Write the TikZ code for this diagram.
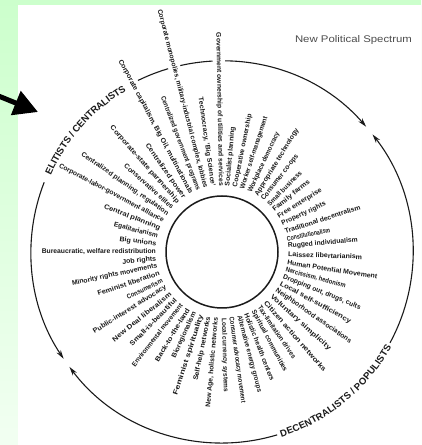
\documentclass[tikz,border=0pt]{standalone}
\usepackage{fontspec}
\setmainfont{Liberation Sans}
\usetikzlibrary{arrows.meta,calc,decorations.text}
\definecolor{bgtop}{HTML}{CCFFCC}
\definecolor{bgbot}{HTML}{F2FFF2}
\definecolor{ink}{HTML}{1A1A1A}

% one radial label: angle, outer radius, text, node name, extra style
\newcommand\spokelabel[5]{%
  \pgfmathsetmacro\spklen{#2-66}%
  \pgfmathtruncatemacro\spkleft{((#1 > 90) || (#1 < -90)) ? 1 : 0}%
  \ifnum\spkleft=1
    \pgfmathsetmacro\spkrot{#1-180}%
    \path (C) ++(#1:66) node[spoke,#5,anchor=east,rotate=\spkrot] (#4)
      {\resizebox{\spklen pt}{4.9pt}{\textbf{#3}}};
  \else
    \path (C) ++(#1:66) node[spoke,#5,anchor=west,rotate=#1] (#4)
      {\resizebox{\spklen pt}{4.9pt}{\textbf{#3}}};
  \fi}

\begin{document}
\begin{tikzpicture}[x=1pt,y=1pt,
  arcline/.style={draw=ink,line width=1.1pt,-{Stealth[length=9pt,width=5pt]}},
  spoke/.style={inner sep=0pt,text=ink},
  cutspoke/.style={fill=white,inner xsep=0pt,inner ysep=3pt},
  arclabel/.style={decorate,decoration={text along path,text align=center,
     raise=-3.5pt,text color=ink,text={#1}}},
  pointer/.style={line width=5pt,-{Triangle[length=24pt,width=25pt]}}]
\useasboundingbox (0,0) rectangle (421,445);

% page background
\shade[top color=bgtop,bottom color=bgbot] (0,0) rectangle (421,445);
\fill[white] (18,0) rectangle (421,440);

\coordinate (C) at (222,193);

% outer ring: four arrowed arcs
\draw[arcline] ($(C)+(117:191)$) arc[start angle=117,end angle=41,radius=191];
\draw[arcline] ($(C)+(-28.4:191)$) arc[start angle=-28.4,end angle=38,radius=191];
\draw[arcline] ($(C)+(158.6:191)$) arc[start angle=158.6,end angle=214,radius=191];
\draw[arcline] ($(C)+(286.8:191)$) arc[start angle=286.8,end angle=217,radius=191];

% ring labels
\path[arclabel={|\bfseries\fontsize{9.6pt}{9.6pt}\selectfont|ELITISTS / CENTRALISTS}]
  ($(C)+(158:191)$) arc[start angle=158,end angle=118.6,radius=191];
\path[arclabel={|\bfseries\fontsize{9.6pt}{9.6pt}\selectfont|DECENTRALISTS / POPULISTS}]
  ($(C)+(-73:191)$) arc[start angle=-73,end angle=-28.6,radius=191];

% long spokes that cross the ring
\foreach \a/\r/\t [count=\i] in {
  91/219/Government ownership of utilities and services,
  104.5/250/{Corporate monopolies, military-industrial complex, lobbies},
  118/217/{Corporate capitalism, Big Oil, multinationals}}
  {\spokelabel{\a}{\r}{\t}{long\i}{cutspoke}}

% the sunburst of positions
\foreach \a/\r/\t [count=\i] in {
  85/125/Socialist planning,
  78.5/140/Cooperative ownership,
  72/142/Worker self-management,
  65/132/Workplace democracy,
  58.5/144/Appropriate technology,
  52/122/Consumer co-ops,
  45.5/112/Small business,
  39/112/Family farms,
  32/117/Free enterprise,
  25/114/Property rights,
  18/145/Traditional decentralism,
  11.5/110/Constitutionalism,
  5/136/Rugged individualism,
  -2/140/Laissez libertarianism,
  -9/157/Human Potential Movement,
  -15.5/128/{Narcissism, hedonism},
  -22/149/{Dropping out, drugs, cults},
  -28.5/146/Local self-sufficiency,
  -35/157/Neighborhood associations,
  -42/145/Voluntary simplicity,
  -49/157/Citizen action networks,
  -55.5/128/Tax-limitation drives,
  -62/135/Spiritual communities,
  -68.5/138/Holistic health centers,
  -75/145/Alternative energy groups,
  -82/152/Consumer advocacy movement,
  -88.5/140/Local currency systems,
  -95/156/{New Age, holistic networks},
  -101.5/131/Self-help networks,
  -108/150/Feminist spirituality,
  -114.5/116/Bioregionalism,
  -121/127/Back-to-the-land,
  -128/144/Environmental movement,
  -134.5/130/Small-is-beautiful,
  -141/140/New Deal liberalism,
  -148/151/Public-interest advocacy,
  -154.5/105/Consumerism,
  -161.5/131/Feminist liberation,
  -168/153/Minority rights movements,
  -174/100/Job rights,
  180/180/{Bureaucratic, welfare redistribution},
  173/103/Big unions,
  166/111/Egalitarianism,
  159/126/Central planning,
  152/184/Corporate-labor-government alliance,
  145/171/{Centralized planning, regulation},
  138/130/Conservative elites,
  131.5/167/Corporate-state partnership,
  125/131/Centralized power,
  111/166/Centralized government programs,
  98/156/{Technocracy, 'Big Science'}}
  {\spokelabel{\a}{\r}{\t}{pos\i}{}}

% inner hub
\node[circle,draw=ink,line width=1.5pt,minimum size=112pt,inner sep=0pt] (hub) at (C) {};

% title
\node[text=black!70,inner sep=0pt] (title) at (353.5,405)
  {\resizebox{117pt}{7pt}{New Political Spectrum}};

% pointer arrow from the margin
\coordinate (ptail) at (-4,350);
\coordinate (ptip) at (38,333);
\draw[pointer] (ptail) -- (ptip);
\end{tikzpicture}
\end{document}
